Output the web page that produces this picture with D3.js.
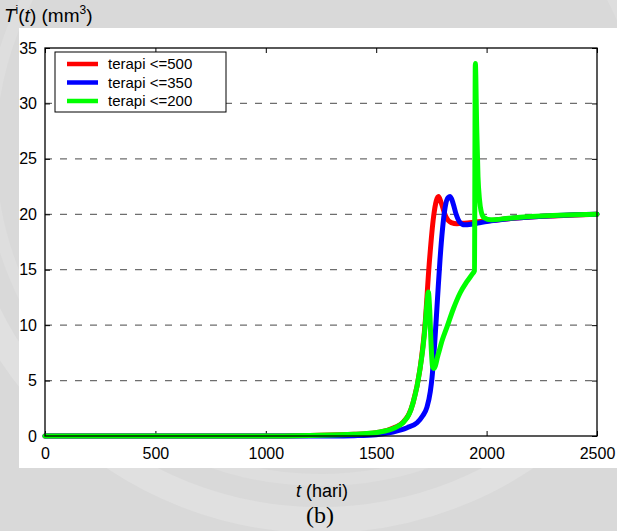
<!DOCTYPE html>
<html>
<head>
<meta charset="utf-8">
<script src="https://cdn.jsdelivr.net/npm/d3@7"></script>
<style>
  body { margin: 0; background: #d9d9d9; }
  svg { display: block; }
</style>
</head>
<body>
<svg id="chart" width="617" height="531"></svg>
<script>
// data (t in hari, T^i in mm^3)
const t500 = [0, 1000, 1200, 1400, 1500, 1520, 1580, 1620, 1667, 1698, 1721, 1740, 1760, 1772, 1782, 1795, 1815, 1840, 1866, 1900, 1950, 2000, 2100, 2200, 2300, 2400, 2500];
const v500 = [0, 0, 0.05, 0.15, 0.3, 0.36, 0.75, 1.2, 3, 6, 10, 15.5, 19.8, 21.2, 21.6, 21, 19.8, 19.25, 19.15, 19.2, 19.3, 19.4, 19.6, 19.75, 19.85, 19.93, 20];

const t350 = [0, 1300, 1400, 1500, 1576, 1640, 1685, 1710, 1730, 1745, 1753, 1766, 1778, 1789, 1800, 1812, 1825, 1835, 1848, 1862, 1878, 1900, 1930, 1960, 2000, 2100, 2200, 2300, 2400, 2500];
const v350 = [0, 0, 0.03, 0.12, 0.36, 0.75, 1.2, 1.8, 2.6, 4, 5.3, 8.7, 12.5, 15.9, 18.6, 20.6, 21.5, 21.6, 21, 20, 19.3, 19.05, 19.1, 19.2, 19.35, 19.6, 19.75, 19.87, 19.95, 20];

const t200 = [0, 1000, 1200, 1400, 1517, 1580, 1621, 1650, 1667, 1685, 1698, 1712, 1721, 1730, 1736, 1742, 1748, 1755, 1762, 1780, 1800, 1820, 1850, 1880, 1910, 1935, 1945, 1949, 1955, 1961, 1968, 1975, 1988, 2020, 2100, 2200, 2300, 2400, 2500];
const v200 = [0, 0, 0.05, 0.15, 0.36, 0.7, 1.2, 2, 3, 4.5, 6, 8, 9.8, 12, 13, 11.5, 8.5, 6.3, 6.1, 7.3, 8.7, 9.8, 11.5, 12.9, 13.9, 14.6, 14.9, 33.6, 28, 23.4, 21.3, 20.3, 19.7, 19.5, 19.65, 19.8, 19.9, 19.95, 20];

const seriesNames = ["terapi <=500", "terapi <=350", "terapi <=200"];
const seriesColors = ["#ff0000", "#0000ff", "#00ff00"];
const xTicks = [0, 500, 1000, 1500, 2000, 2500];
const yTicks = [0, 5, 10, 15, 20, 25, 30, 35];

const series = [
  {name: seriesNames[0], t: t500, v: v500},
  {name: seriesNames[1], t: t350, v: v350},
  {name: seriesNames[2], t: t200, v: v200}
];

//////////////////////////
// layout
//////////////////////////
let margin = {left: 45, right: 20, top: 48, bottom: 95};
let W = 617, H = 531;
let width = W - margin.left - margin.right;   // 552
let height = H - margin.top - margin.bottom;  // 388

let svg = d3.select("#chart");

//background + white panel
svg.append("rect")
  .attr("width", W).attr("height", H)
  .attr("fill", "#d9d9d9");

// faint watermark arcs
svg.append("circle")
  .attr("cx", 320).attr("cy", 150).attr("r", 370)
  .attr("fill", "none").attr("stroke", "#e0e0e0").attr("stroke-width", 26);
svg.append("circle")
  .attr("cx", 320).attr("cy", 150).attr("r", 330)
  .attr("fill", "none").attr("stroke", "#dedede").attr("stroke-width", 12);

svg.append("rect")
  .attr("x", 19).attr("y", 28)
  .attr("width", W - 19).attr("height", 440)
  .attr("fill", "white");

let g = svg.append("g")
  .attr("transform", `translate(${margin.left},${margin.top})`);

//scales
let x = d3.scaleLinear().domain([0, 2500]).range([0, width]);
let y = d3.scaleLinear().domain([0, 35]).range([height, 0]);

//grid (dashed, horizontal only)
g.append("g")
  .selectAll("line")
  .data(yTicks.filter(d => d > 0 && d < 35))
  .enter()
  .append("line")
  .attr("x1", 0).attr("x2", width)
  .attr("y1", d => y(d)).attr("y2", d => y(d))
  .attr("stroke", "#6e6e6e")
  .attr("stroke-width", 1.3)
  .attr("stroke-dasharray", "7,8");

//axes with inward ticks
let font = "Arial, 'Liberation Sans', sans-serif";
let fmt = d3.format("d");

let xAxis = g.append("g")
  .attr("transform", `translate(0,${height})`)
  .call(d3.axisBottom(x).tickValues(xTicks).tickFormat(fmt).tickSizeInner(-5).tickSizeOuter(0).tickPadding(12));
let xTop = g.append("g")
  .call(d3.axisTop(x).tickValues(xTicks).tickSizeInner(-5).tickSizeOuter(0).tickFormat(""));
let yAxis = g.append("g")
  .call(d3.axisLeft(y).tickValues(yTicks).tickFormat(fmt).tickSizeInner(-5).tickSizeOuter(0).tickPadding(8));
let yRight = g.append("g")
  .attr("transform", `translate(${width},0)`)
  .call(d3.axisRight(y).tickValues(yTicks).tickSizeInner(-5).tickSizeOuter(0).tickFormat(""));

[xAxis, xTop, yAxis, yRight].forEach(a => {
  a.select(".domain").remove();
  a.selectAll("line").attr("stroke", "black");
  a.selectAll("text")
    .attr("font-family", font)
    .attr("font-size", 16)
    .attr("fill", "black");
});

//lines
let line = d3.line()
  .x(d => x(d[0]))
  .y(d => y(d[1]))
  .curve(d3.curveMonotoneX);

g.append("g")
  .selectAll("path")
  .data(series)
  .enter()
  .append("path")
  .attr("d", d => line(d.t.map((tt, i) => [tt, d.v[i]])))
  .attr("fill", "none")
  .attr("stroke", (d, i) => seriesColors[i])
  .attr("stroke-width", 5)
  .attr("stroke-linejoin", "round")
  .attr("stroke-linecap", "round");

//frame
g.append("rect")
  .attr("width", width).attr("height", height)
  .attr("fill", "none")
  .attr("stroke", "black")
  .attr("stroke-width", 1.3);

//legend
let legend = g.append("g")
  .attr("transform", "translate(10,4)");

legend.append("rect")
  .attr("width", 171).attr("height", 60)
  .attr("fill", "white")
  .attr("stroke", "black")
  .attr("stroke-width", 1);

let item = legend.selectAll(".item")
  .data(seriesNames)
  .enter()
  .append("g")
  .attr("transform", (d, i) => `translate(0,${12 + i * 18.5})`);

item.append("line")
  .attr("x1", 12).attr("x2", 43)
  .attr("stroke", (d, i) => seriesColors[i])
  .attr("stroke-width", 4.5);

item.append("text")
  .attr("x", 53)
  .attr("dy", "0.35em")
  .attr("font-family", font)
  .attr("font-size", 15)
  .text(d => d);

//y title
let yTitle = svg.append("text")
  .attr("x", 4).attr("y", 22)
  .attr("font-family", font)
  .attr("font-size", 19);
yTitle.append("tspan").attr("font-style", "italic").text("T");
yTitle.append("tspan").attr("font-size", 12).attr("dy", -8).text("i");
yTitle.append("tspan").attr("dy", 8).text("(");
yTitle.append("tspan").attr("font-style", "italic").text("t");
yTitle.append("tspan").text(") (mm");
yTitle.append("tspan").attr("font-size", 12).attr("dy", -8).text("3");
yTitle.append("tspan").attr("dy", 8).text(")");

//x title
let xTitle = svg.append("text")
  .attr("x", 322).attr("y", 497)
  .attr("text-anchor", "middle")
  .attr("font-family", font)
  .attr("font-size", 18);
xTitle.append("tspan").attr("font-style", "italic").text("t");
xTitle.append("tspan").text(" (hari)");

svg.append("text")
  .attr("x", 320).attr("y", 523)
  .attr("text-anchor", "middle")
  .attr("font-family", "'Liberation Serif', 'Times New Roman', serif")
  .attr("font-size", 24)
  .text("(b)");
</script>
</body>
</html>
